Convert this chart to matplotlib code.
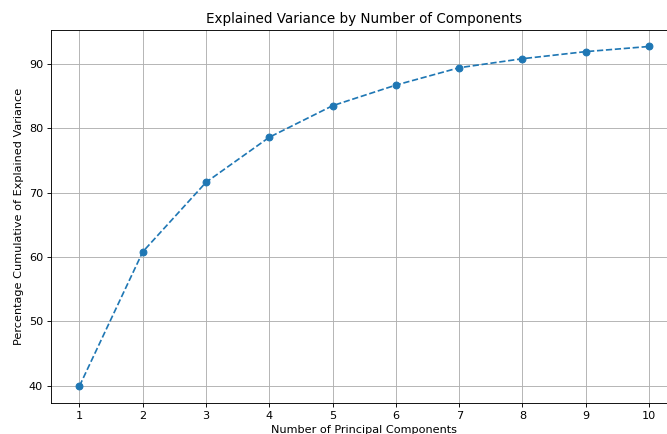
import matplotlib
matplotlib.use("Agg")
import matplotlib.pyplot as plt

# Cumulative explained variance (%) per number of components
n_components = [1, 2, 3, 4, 5, 6, 7, 8, 9, 10]
cumulative_variance = [39.95, 60.8, 71.6, 78.6, 83.5, 86.7, 89.4, 90.8, 91.9, 92.7]

dpi = 81
fig = plt.figure(figsize=(667 / dpi, 434 / dpi), dpi=dpi)
# axes run past the right/bottom edge like the cropped original
ax = fig.add_axes([51 / 667, 31 / 434, 626.5 / 667, 373.5 / 434])

ax.plot(n_components, cumulative_variance, marker='o', linestyle='--')
ax.set_title("Explained Variance by Number of Components")
ax.set_xlabel("Number of Principal Components")
ax.set_ylabel("Percentage Cumulative of Explained Variance")
ax.set_xticks(n_components)
ax.grid(True)

fig.savefig("out.png", dpi=dpi)
